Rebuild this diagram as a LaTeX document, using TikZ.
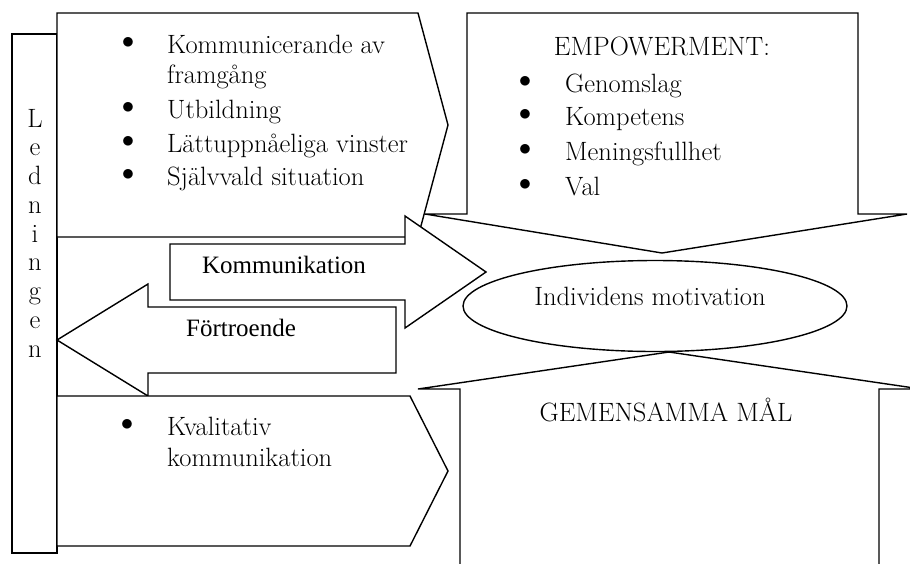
\documentclass[tikz,border=0pt]{standalone}
\usepackage{fontspec}
\newfontfamily\timesfont{Liberation Serif}
\usetikzlibrary{shapes.geometric}

\begin{document}
\begin{tikzpicture}[
  x=1pt, y=-1pt,
  every node/.style={inner sep=0pt, font=\fontsize{26.5}{30}\selectfont},
  outline/.style={draw, fill=white, line width=1.4pt, line join=miter},
  item/.style={anchor=base west},
  heading/.style={anchor=base},
  dot/.style={anchor=center},
  arrowtext/.style={anchor=base, font=\timesfont\fontsize{25}{28}\selectfont}
  ]
  \clip (0,0) rectangle (910,563);
  \fill[white] (0,0) rectangle (910,563);

  % boxes and arrows
  \draw[outline] (12,34) rectangle (57,553);
  \draw[outline] (57,13) -- (418,13) -- (448,125) -- (418,237) -- (57,237) -- cycle;
  \draw[outline] (467,13) -- (858,13) -- (858,214) -- (907,214) -- (662,253)
    -- (425,214) -- (467,214) -- cycle;
  \draw[outline] (170,244) -- (405,244) -- (405,216) -- (486,272) -- (405,328)
    -- (405,300) -- (170,300) -- cycle;
  \draw[outline] (396,307) -- (148,307) -- (148,284) -- (57,340) -- (148,396)
    -- (148,373) -- (396,373) -- cycle;
  \draw[outline] (57,396) -- (410,396) -- (448,471) -- (410,546) -- (57,546) -- cycle;
  \draw[outline] (460,600) -- (460,389) -- (418,389) -- (669,352) -- (921,389)
    -- (879,389) -- (879,600) -- cycle;
  \node[outline, ellipse, minimum width=384pt, minimum height=91pt] (motivring) at (655,306) {};

  % Ledningen
  \foreach \c [count=\i from 0] in {L,e,d,n,i,n,g,e,n}
    \node[heading] (led\i) at (35,127+28.75*\i) {\c};

  % upper left list
  \node[dot] (ul1) at (128,43) {$\bullet$};
  \node[item] (ultext1) at (167,53) {Kommunicerande av};
  \node[item] (ultext1b) at (167,83) {framgång};
  \node[dot] (ul2) at (128,108) {$\bullet$};
  \node[item] (ultext2) at (167,118) {Utbildning};
  \node[dot] (ul3) at (128,142) {$\bullet$};
  \node[item] (ultext3) at (167,152) {Lättuppnåeliga vinster};
  \node[dot] (ul4) at (128,175) {$\bullet$};
  \node[item] (ultext4) at (167,185) {Självvald situation};

  % empowerment
  \node[heading] (emp) at (662,55) {EMPOWERMENT:};
  \node[dot] (emp1) at (525,82) {$\bullet$};
  \node[item] (emptext1) at (565,92) {Genomslag};
  \node[dot] (emp2) at (525,115) {$\bullet$};
  \node[item] (emptext2) at (565,125) {Kompetens};
  \node[dot] (emp3) at (525,150) {$\bullet$};
  \node[item] (emptext3) at (565,160) {Meningsfullhet};
  \node[dot] (emp4) at (525,185) {$\bullet$};
  \node[item] (emptext4) at (565,195) {Val};

  % arrows
  \node[arrowtext] (komm) at (284,273) {Kommunikation};
  \node[arrowtext] (fort) at (241,336) {Förtroende};

  \node[heading] (motiv) at (650,305) {Individens motivation};

  % lower left list
  \node[dot] (ll1) at (127,425) {$\bullet$};
  \node[item] (lltext1) at (167,435) {Kvalitativ};
  \node[item] (lltext1b) at (167,466) {kommunikation};

  \node[heading] (mal) at (666,421) {GEMENSAMMA MÅL};
\end{tikzpicture}
\end{document}
